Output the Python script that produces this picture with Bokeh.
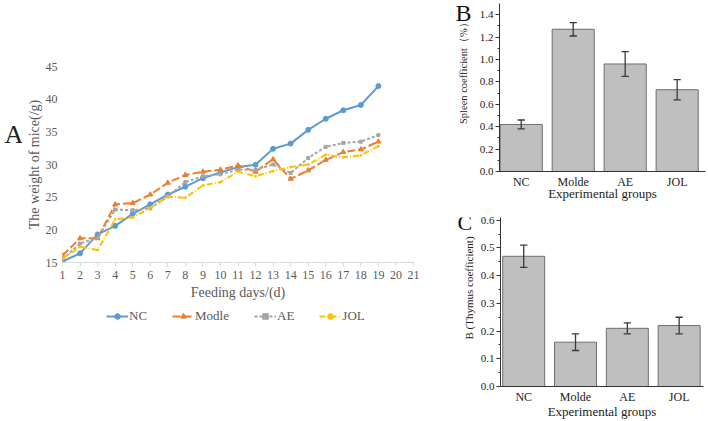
import math
from bokeh.plotting import figure
from bokeh.layouts import row, column
from bokeh.models import (ColumnDataSource, FixedTicker, Legend, LegendItem,
                          Label, Range1d, PrintfTickFormatter)
from bokeh.embed import file_html
from bokeh.resources import INLINE

# ---- body weight over feeding days ----
days = list(range(1, 20))
nc = [15.15, 16.4, 19.3, 20.6, 22.45, 23.9, 25.4, 26.6, 27.9, 28.8, 29.6, 29.95,
      32.4, 33.2, 35.3, 37.0, 38.3, 39.1, 42.0]
modle = [16.1, 18.7, 18.7, 23.9, 24.1, 25.4, 27.2, 28.4, 28.9, 29.2, 29.85, 28.9,
         30.8, 27.8, 29.1, 30.7, 31.9, 32.3, 33.5]
ae = [15.5, 17.9, 18.8, 23.1, 23.0, 23.3, 25.1, 27.3, 28.2, 28.5, 29.2, 29.2,
      30.0, 28.7, 31.0, 32.7, 33.3, 33.5, 34.5]
jol = [15.6, 17.4, 16.9, 21.6, 21.9, 23.4, 25.1, 24.9, 26.8, 27.3, 28.9, 28.2,
       29.0, 29.6, 30.0, 31.5, 31.1, 31.4, 32.8]
day_ticks = list(range(1, 22))
weight_ticks = [15, 20, 25, 30, 35, 40, 45]

# ---- organ coefficients ----
groups = ["NC", "Molde", "AE", "JOL"]
spleen = [0.42, 1.27, 0.96, 0.73]
spleen_err = [0.04, 0.06, 0.11, 0.09]
thymus = [0.47, 0.16, 0.21, 0.22]
thymus_err = [0.04, 0.03, 0.02, 0.03]

SERIF = "Liberation Serif"
GREY_TXT = "#595959"

series = [
    ("NC", nc, "#5B9BD5", "solid", "circle", 5),
    ("Modle", modle, "#ED7D31", "8 3", "triangle", 5),
    ("AE", ae, "#A5A5A5", "3 2", "square", 3),
    ("JOL", jol, "#FFC000", "6 2 1 2", "circle", 2),
]


def blank(width, height):
    """Axis-free strip whose data units equal pixels (origin bottom-left)."""
    f = figure(width=width, height=height, x_range=Range1d(0, width),
               y_range=Range1d(0, height), output_backend="svg", toolbar_location=None,
               x_axis_location=None, y_axis_location=None,
               min_border_left=0, min_border_right=0, min_border_top=0,
               min_border_bottom=0)
    f.outline_line_color = None
    f.grid.grid_line_color = None
    return f


# ------------------------------------------------------------------ panel letter "A"
stripA = blank(22, 421)
stripA.add_layout(Label(x=4, y=287, text="A", text_font=SERIF, text_font_size="26px",
                        text_color="#222222", text_baseline="middle", text_align="left"))

# ------------------------------------------------------------------ panel A
pA = figure(width=418, height=302, x_range=Range1d(1, 21), y_range=Range1d(15, 45),
            output_backend="svg", toolbar_location=None,
            min_border_left=40, min_border_right=27, min_border_top=66,
            min_border_bottom=39)
pA.outline_line_color = None
pA.grid.grid_line_color = None

for name, vals, col, dash, marker, msize in series:
    src = ColumnDataSource(dict(x=days, y=vals))
    pA.line("x", "y", source=src, line_color=col, line_width=2, line_dash=dash)
    pA.scatter("x", "y", source=src, marker=marker, size=msize,
               fill_color=col, line_color=col)

xa = pA.xaxis[0]
xa.ticker = FixedTicker(ticks=day_ticks)
xa.axis_line_color = "#D9D9D9"
xa.major_tick_line_color = "#D9D9D9"
xa.major_tick_out = 4
xa.major_tick_in = 0
xa.minor_tick_line_color = None
xa.minor_tick_out = 0
xa.major_label_text_font = SERIF
xa.major_label_text_font_size = "12px"
xa.major_label_text_color = GREY_TXT
xa.major_label_standoff = 4
xa.axis_label = "Feeding days/(d)"
xa.axis_label_text_font = SERIF
xa.axis_label_text_font_style = "normal"
xa.axis_label_text_font_size = "14px"
xa.axis_label_text_color = GREY_TXT
xa.axis_label_standoff = 3

ya = pA.yaxis[0]
ya.ticker = FixedTicker(ticks=weight_ticks)
ya.axis_line_color = None
ya.major_tick_line_color = None
ya.major_tick_out = 0
ya.minor_tick_line_color = None
ya.minor_tick_out = 0
ya.major_label_text_font = SERIF
ya.major_label_text_font_size = "12px"
ya.major_label_text_color = GREY_TXT
ya.major_label_standoff = 5
ya.axis_label = "The weight of mice(/g)"
ya.axis_label_text_font = SERIF
ya.axis_label_text_font_style = "normal"
ya.axis_label_text_font_size = "14px"
ya.axis_label_text_color = GREY_TXT
ya.axis_label_standoff = 1

# ------------------------------------------------------------------ legend strip under panel A
pLeg = blank(418, 119)
items = []
for name, vals, col, dash, marker, msize in series:
    # renderers kept off-range: they only supply the legend glyphs
    src = ColumnDataSource(dict(x=[-50.0], y=[-50.0]))
    ln = pLeg.line("x", "y", source=src, line_color=col, line_width=2, line_dash=dash)
    mk = pLeg.scatter("x", "y", source=src, marker=marker, size=msize - 1,
                      fill_color=col, line_color=col)
    items.append(LegendItem(label=name, renderers=[ln, mk]))
legend = Legend(items=items, orientation="horizontal", location=(44, 97),
                label_text_font=SERIF, label_text_font_size="13px",
                label_text_color=GREY_TXT, glyph_width=22, glyph_height=14,
                label_width=10, label_standoff=1, spacing=25, padding=0, margin=0,
                border_line_color=None, background_fill_alpha=0)
pLeg.add_layout(legend)


# ------------------------------------------------------------------ panels B and C
def bar_panel(vals, errs, ymax, yticks, xr, width, borders, h, title_standoff):
    left, right, top, bottom = borders
    p = figure(width=width, height=h, x_range=Range1d(*xr), y_range=Range1d(0, ymax),
               output_backend="svg", toolbar_location=None,
               min_border_left=left, min_border_right=right,
               min_border_top=top, min_border_bottom=bottom)
    p.outline_line_color = None
    p.grid.grid_line_color = None
    pos = list(range(1, len(groups) + 1))
    lo = [v - e for v, e in zip(vals, errs)]
    hi = [v + e for v, e in zip(vals, errs)]
    src = ColumnDataSource(dict(x=pos, top=vals, lo=lo, hi=hi,
                                cl=[x - 0.07 for x in pos], cr=[x + 0.07 for x in pos]))
    p.vbar(x="x", top="top", width=0.81, source=src, fill_color="#BFBFBF",
           line_color="#6E6E6E", line_width=1)
    # error bars: stem plus caps at both ends
    ecol = "#3A3A3A"
    p.segment(x0="x", y0="lo", x1="x", y1="hi", source=src, line_color=ecol, line_width=1.3)
    p.segment(x0="cl", y0="hi", x1="cr", y1="hi", source=src, line_color=ecol, line_width=1.3)
    p.segment(x0="cl", y0="lo", x1="cr", y1="lo", source=src, line_color=ecol, line_width=1.3)

    xa = p.xaxis[0]
    xa.ticker = FixedTicker(ticks=pos)
    xa.major_label_overrides = {i: g for i, g in zip(pos, groups)}
    xa.axis_line_color = "#333333"
    xa.major_tick_line_color = None
    xa.major_tick_out = 0
    xa.major_tick_in = 0
    xa.minor_tick_line_color = None
    xa.minor_tick_out = 0
    xa.major_label_text_font = SERIF
    xa.major_label_text_font_size = "12px"
    xa.major_label_text_color = "#222222"
    xa.major_label_standoff = 3
    xa.axis_label = "Experimental groups"
    xa.axis_label_text_font = SERIF
    xa.axis_label_text_font_style = "normal"
    xa.axis_label_text_font_size = "13px"
    xa.axis_label_text_color = "#222222"
    xa.axis_label_standoff = title_standoff

    ya = p.yaxis[0]
    ya.ticker = FixedTicker(ticks=yticks,
                            minor_ticks=[(a + b) / 2 for a, b in zip(yticks, yticks[1:])])
    ya.formatter = PrintfTickFormatter(format="%.1f")
    ya.axis_line_color = "#333333"
    ya.major_tick_line_color = "#333333"
    ya.major_tick_out = 4
    ya.major_tick_in = 0
    ya.minor_tick_line_color = "#333333"
    ya.minor_tick_out = 2
    ya.minor_tick_in = 0
    ya.major_label_text_font = SERIF
    ya.major_label_text_font_size = "11px"
    ya.major_label_text_color = "#222222"
    ya.major_label_standoff = 2
    return p


def side_strip(width, h, letter, letter_size, letter_xy, title, title_size, title_xy):
    s = blank(width, h)
    s.add_layout(Label(x=letter_xy[0], y=letter_xy[1], text=letter, text_font=SERIF,
                       text_font_size=letter_size, text_color="#111111",
                       text_baseline="middle", text_align="left"))
    s.add_layout(Label(x=title_xy[0], y=title_xy[1], text=title, angle=math.pi / 2,
                       text_font=SERIF, text_font_size=title_size, text_color="#222222",
                       text_baseline="middle", text_align="center"))
    return s


stripB = side_strip(33, 210, "B", "24px", (15, 198), "Spleen coefficient（%）", "10.5px",
                    (23, 126))
pB = bar_panel(spleen, spleen_err, 1.5, [0.0, 0.2, 0.4, 0.6, 0.8, 1.0, 1.2, 1.4],
               (0.582, 4.545), 235, (26, 3, 3, 39), 210, -6)

stripC = side_strip(37, 211, "C", "22px", (17, 205), "B (Thymus coefficient)", "11px",
                    (28, 123))
pC = bar_panel(thymus, thymus_err, 0.61, [0.0, 0.1, 0.2, 0.3, 0.4, 0.5, 0.6],
               (0.552, 4.47), 231, (21, 5, 7, 35), 211, -3)

layout = row(stripA, column(pA, pLeg), column(row(stripB, pB), row(stripC, pC)))
with open("out.html", "w") as f:
    f.write(file_html(layout, INLINE))
